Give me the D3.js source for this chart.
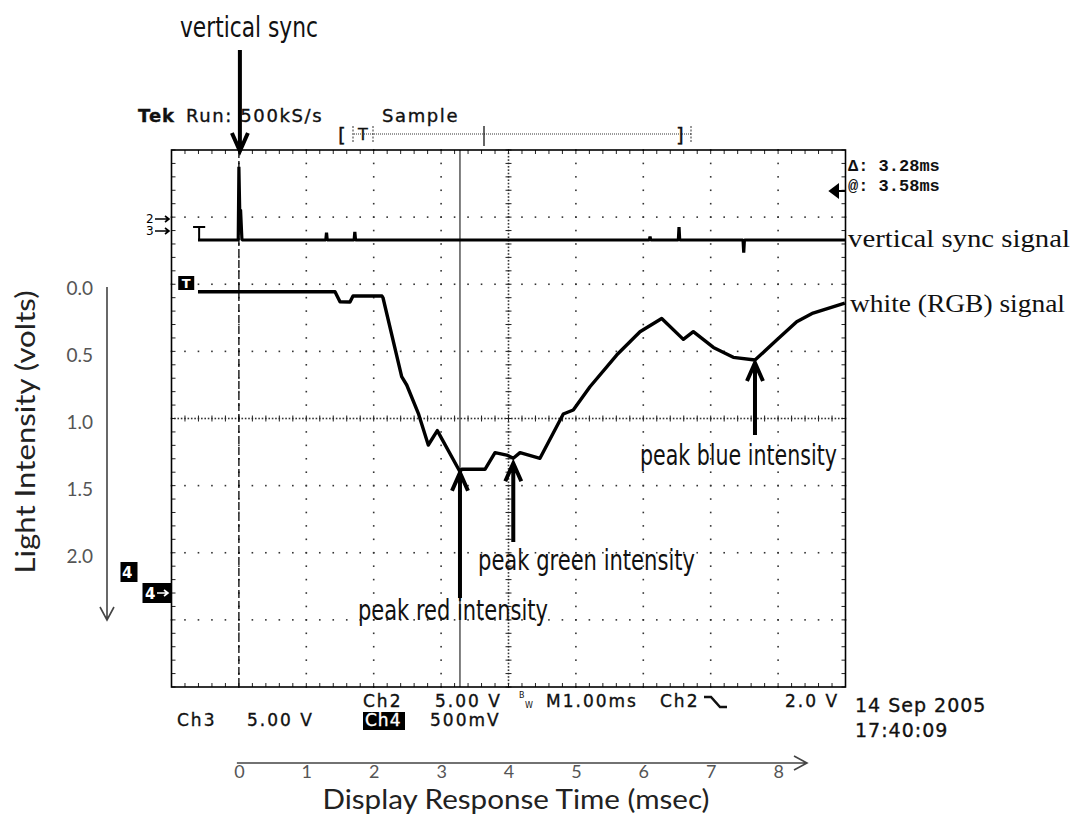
<!DOCTYPE html>
<html><head><meta charset="utf-8">
<script src="https://cdn.jsdelivr.net/npm/d3@7"></script>
<style>
body{margin:0;background:#fff;}
svg{display:block;}
.scope{font-family:"DejaVu Sans",sans-serif;font-size:17px;letter-spacing:2px;fill:#111;stroke:#111;stroke-width:0.35px;}
.cond{font-family:"DejaVu Sans Condensed","Liberation Sans Narrow",sans-serif;font-size:29px;fill:#111;}
.cal{font-family:Lato,"Open Sans",sans-serif;}
.serif{font-family:"Liberation Serif","DejaVu Serif",serif;font-size:26px;fill:#111;}
</style></head><body>
<svg id="c" width="1086" height="819"></svg>
<script>
// ---------------- data ----------------
// white (RGB) light signal, Ch4 : time (ms after vsync) / relative intensity (V)
const whiteTime  = [-0.607, 1.426, 1.50, 1.648, 1.693, 2.123, 2.138, 2.415, 2.49, 2.662, 2.81, 2.944, 3.28, 3.306, 3.651, 3.80, 3.973, 4.071, 4.171, 4.467, 4.813, 4.961, 5.209, 5.605, 5.951, 6.273, 6.594, 6.742, 7.04, 7.335, 7.657, 7.979, 8.276, 8.518, 8.99];
const whiteVolts = [0.035, 0.035, 0.11, 0.112, 0.067, 0.067, 0.08, 0.668, 0.73, 0.941, 1.177, 1.07, 1.376, 1.358, 1.358, 1.234, 1.252, 1.276, 1.234, 1.276, 0.946, 0.916, 0.743, 0.507, 0.333, 0.235, 0.39, 0.333, 0.45, 0.524, 0.544, 0.395, 0.258, 0.194, 0.12];
// vertical sync signal, Ch3 : time (ms) / volts
const syncTime  = [-0.607, -0.01, 0.0, 0.012, 0.025, 0.045, 1.29, 1.30, 1.31, 1.71, 1.72, 1.73, 6.09, 6.10, 6.11, 6.52, 6.53, 6.54, 7.48, 7.49, 7.50, 9.0];
const syncVolts = [0, 0, 5.45, 2.25, 2.25, 0, 0, 0.55, 0, 0, 0.6, 0, 0, 0.25, 0, 0, 0.97, 0, 0, -0.95, 0, 0];
const timeTicks = [0, 1, 2, 3, 4, 5, 6, 7, 8];
const voltTicks = [0, 0.5, 1.0, 1.5, 2.0];
const cursorTimes = [0, 3.28];
const peakLabels = ["peak red intensity", "peak green intensity", "peak blue intensity"];
const peakTimes = [3.28, 4.071, 7.657];
const seriesLabels = ["vertical sync signal", "white (RGB) signal"];
const readouts = ["\u0394: 3.28ms", "@: 3.58ms"];
const statusRow1 = ["Ch2", "5.00 V", "M1.00ms", "Ch2", "2.0 V"];
const statusRow2 = ["Ch3", "5.00 V", "Ch4", "500mV"];
const dateLines = ["14 Sep 2005", "17:40:09"];

// ---------------- scales ----------------
const P = {l: 171.5, r: 845.5, t: 150, b: 687};
const x = d3.scaleLinear().domain([-1, 9]).range([P.l, P.r]);          // 1 ms / div
const div = d3.scaleLinear().domain([4, -4]).range([P.t, P.b]);        // graticule divisions
const yW = d3.scaleLinear().domain([0, 2]).range([287, 287 + 4 * 67.125]); // 500 mV / div
const yS = d3.scaleLinear().domain([0, 5]).range([240, 240 - 67.125]);     // 5 V / div

const svg = d3.select("#c");

// ---------------- graticule ----------------
const grid = svg.append("g");
const dots = [];
const divMinor = d3.range(-4, 4.0001, 0.2);
const tMinor = d3.range(-1, 9.0001, 0.2);
d3.range(0, 9).filter(t => t !== 4).forEach(t => divMinor.forEach(d => dots.push([x(t), div(d)])));
[-3, -2, -1, 1, 2, 3].forEach(d => tMinor.forEach(t => dots.push([x(t), div(d)])));
// dense center lines
d3.range(-4, 4.0001, 0.05).forEach(d => dots.push([x(4), div(d)]));
d3.range(-1, 9.0001, 0.05).forEach(t => dots.push([x(t), div(0)]));
grid.selectAll("rect.dot").data(dots).join("rect").attr("class", "dot")
  .attr("x", d => d[0] - 0.8).attr("y", d => d[1] - 0.8).attr("width", 1.6).attr("height", 1.6)
  .attr("fill", "#333");
// center cross ticks
grid.selectAll("line.cv").data(divMinor).join("line").attr("class", "cv")
  .attr("x1", x(4) - 3).attr("x2", x(4) + 3).attr("y1", d => div(d)).attr("y2", d => div(d))
  .attr("stroke", "#222").attr("stroke-width", 1);
grid.selectAll("line.ch").data(tMinor).join("line").attr("class", "ch")
  .attr("y1", div(0) - 3).attr("y2", div(0) + 3).attr("x1", d => x(d)).attr("x2", d => x(d))
  .attr("stroke", "#222").attr("stroke-width", 1);
// border ticks
const bt = [];
tMinor.forEach(t => { bt.push([x(t), P.t, x(t), P.t + 4]); bt.push([x(t), P.b, x(t), P.b - 4]); });
divMinor.forEach(d => { bt.push([P.l, div(d), P.l + 4, div(d)]); bt.push([P.r, div(d), P.r - 4, div(d)]); });
grid.selectAll("line.bt").data(bt).join("line").attr("class", "bt")
  .attr("x1", d => d[0]).attr("y1", d => d[1]).attr("x2", d => d[2]).attr("y2", d => d[3])
  .attr("stroke", "#222").attr("stroke-width", 1);
grid.append("rect").attr("x", P.l).attr("y", P.t).attr("width", P.r - P.l).attr("height", P.b - P.t)
  .attr("fill", "none").attr("stroke", "#000").attr("stroke-width", 1.6);

// cursors
svg.selectAll("line.cursor").data(cursorTimes).join("line").attr("class", "cursor")
  .attr("x1", d => x(d)).attr("x2", d => x(d)).attr("y1", P.t).attr("y2", P.b)
  .attr("stroke", "#000").attr("stroke-width", (d, i) => i === 0 ? 1.3 : 1)
  .attr("stroke-dasharray", (d, i) => i === 0 ? "8,3" : null);

// ---------------- traces ----------------
const syncData = syncTime.map((t, i) => [t, syncVolts[i]]);
const whiteData = whiteTime.map((t, i) => [t, whiteVolts[i]]);
svg.append("path").datum(syncData)
  .attr("d", d3.line().x(d => x(d[0])).y(d => yS(d[1])))
  .attr("fill", "none").attr("stroke", "#000").attr("stroke-width", 3.2).attr("stroke-linejoin", "bevel");
svg.append("path").datum(whiteData)
  .attr("d", d3.line().x(d => x(d[0])).y(d => yW(d[1])))
  .attr("fill", "none").attr("stroke", "#000").attr("stroke-width", 3.4).attr("stroke-linejoin", "round");

// trigger markers "T"
svg.append("path").attr("d", `M${x(-0.68)},227 H${x(-0.5)} M${x(-0.59)},227 V240`)
  .attr("stroke", "#000").attr("stroke-width", 2).attr("fill", "none");
svg.append("rect").attr("x", x(-0.9)).attr("y", 276).attr("width", 16).attr("height", 14).attr("fill", "#000");
svg.append("text").attr("x", x(-0.9) + 8).attr("y", 288).attr("text-anchor", "middle")
  .attr("font-family", "DejaVu Sans").attr("font-weight", "bold").attr("font-size", 13).attr("fill", "#fff").text("T");

// channel markers on left
const mk = svg.append("g").attr("font-family", "DejaVu Sans").attr("font-size", 12).attr("fill", "#000");
mk.append("text").attr("x", 146).attr("y", 223).text("2");
mk.append("text").attr("x", 146).attr("y", 235).text("3");
[219, 231].forEach(yy => {
  mk.append("path").attr("d", `M155,${yy} H169 M165,${yy - 3} L169,${yy} L165,${yy + 3}`)
    .attr("stroke", "#000").attr("stroke-width", 1.6).attr("fill", "none");
});
svg.append("rect").attr("x", 120.5).attr("y", 562).attr("width", 17).attr("height", 20).attr("fill", "#000");
svg.append("text").attr("x", 122).attr("y", 578).attr("font-family", "DejaVu Sans").attr("font-weight", "bold")
  .attr("font-size", 15).attr("fill", "#fff").text("4");
svg.append("rect").attr("x", 142.5).attr("y", 583).attr("width", 28.5).attr("height", 20).attr("fill", "#000");
svg.append("text").attr("x", 145).attr("y", 599).attr("font-family", "DejaVu Sans").attr("font-weight", "bold")
  .attr("font-size", 15).attr("fill", "#fff").text("4");
svg.append("path").attr("d", "M157,593 H168 M164,590 L168,593 L164,596")
  .attr("stroke", "#fff").attr("stroke-width", 1.6).attr("fill", "none");

// ---------------- header ----------------
const hd = svg.append("g").attr("class", "scope").style("font-size", "18px");
hd.append("text").attr("x", 138).attr("y", 122).attr("font-weight", "bold").style("letter-spacing", "1px").text("Tek");
hd.append("text").attr("x", 186).attr("y", 122).style("letter-spacing", "1.6px").text("Run: 500kS/s");
hd.append("text").attr("x", 382).attr("y", 122).style("letter-spacing", "1.6px").text("Sample");
hd.append("text").attr("x", 338).attr("y", 142).style("font-size", "20px").style("letter-spacing", "0px").text("[");
hd.append("text").attr("x", 676).attr("y", 142).style("font-size", "20px").style("letter-spacing", "0px").text("]");
hd.append("text").attr("x", 358).attr("y", 140).style("font-size", "16px").style("letter-spacing", "0px").text("T");
svg.append("line").attr("x1", 354).attr("x2", 691).attr("y1", 134).attr("y2", 134)
  .attr("stroke", "#333").attr("stroke-width", 1).attr("stroke-dasharray", "1,1");
[353, 373, 691].forEach(xx => svg.append("line").attr("x1", xx).attr("x2", xx).attr("y1", 126).attr("y2", 142)
  .attr("stroke", "#333").attr("stroke-dasharray", "2,1.5"));
svg.append("line").attr("x1", 484).attr("x2", 484).attr("y1", 126).attr("y2", 146).attr("stroke", "#000").attr("stroke-width", 1.2);

// readouts
const ro = svg.append("g").attr("font-family", "Liberation Mono, DejaVu Sans Mono, monospace")
  .attr("font-size", 17).attr("font-weight", "bold").attr("fill", "#111");
readouts.forEach((t, i) => ro.append("text").attr("x", 848).attr("y", 171 + i * 20).text(t));
svg.append("path").attr("d", "M830,191 L838,185 L838,197 Z M836,191 H845").attr("fill", "#000").attr("stroke", "#000").attr("stroke-width", 2);

// series labels (right)
svg.append("text").attr("class", "serif").attr("x", 848).attr("y", 247)
  .attr("textLength", 222).attr("lengthAdjust", "spacingAndGlyphs").text(seriesLabels[0]);
svg.append("text").attr("class", "serif").attr("x", 850).attr("y", 312)
  .attr("textLength", 215).attr("lengthAdjust", "spacingAndGlyphs").text(seriesLabels[1]);

// ---------------- status rows ----------------
svg.append("rect").attr("x", 363).attr("y", 712).attr("width", 42).attr("height", 18).attr("fill", "#000");
const st = svg.append("g").attr("class", "scope");
const row1X = [363, 435, 546, 660, 785];
statusRow1.forEach((t, i) => st.append("text").attr("x", row1X[i]).attr("y", 707).text(t));
st.append("text").attr("x", 519).attr("y", 698).style("font-size", "8px").style("letter-spacing", "0px").style("stroke-width", "0px").text("B");
st.append("text").attr("x", 525).attr("y", 708).style("font-size", "8px").style("letter-spacing", "0px").style("stroke-width", "0px").text("W");
svg.append("path").attr("d", "M704,697 H711 L720,707 H727").attr("stroke", "#111").attr("stroke-width", 2.5).attr("fill", "none");
const row2X = [177, 247, 365, 430];
statusRow2.forEach((t, i) => st.append("text").attr("x", row2X[i]).attr("y", 726)
  .style("fill", i === 2 ? "#fff" : "#111").style("stroke", i === 2 ? "#fff" : "#111")
  .style("letter-spacing", i === 2 ? "1px" : "2px").text(t));
const dt = svg.append("g").attr("class", "scope").style("font-size", "19px").style("letter-spacing", "1px");
dateLines.forEach((t, i) => dt.append("text").attr("x", 855).attr("y", 712 + i * 25).text(t));

// ---------------- annotated axes ----------------
const xa = svg.append("g").attr("transform", "translate(0,773)")
  .call(d3.axisBottom(x).tickValues(timeTicks).tickSize(0).tickPadding(0).tickFormat(d3.format("d")));
xa.select(".domain").remove();
xa.selectAll("text").attr("class", "cal").attr("font-size", 18).attr("fill", "#555").attr("dy", "0.3em");
svg.append("path").attr("d", `M${x(-0.03)},763 H807 M794,756 L807,763 L794,770`)
  .attr("stroke", "#444").attr("stroke-width", 1.6).attr("fill", "none");
svg.append("text").attr("class", "cal").attr("x", 516).attr("y", 809).attr("text-anchor", "middle")
  .attr("font-size", 26).attr("fill", "#222").attr("textLength", 387).attr("lengthAdjust", "spacingAndGlyphs")
  .text("Display Response Time (msec)");

const ya = svg.append("g").attr("transform", "translate(93,1)")
  .call(d3.axisLeft(yW).tickValues(voltTicks).tickSize(0).tickPadding(0).tickFormat(d3.format(".1f")));
ya.select(".domain").remove();
ya.selectAll("text").attr("class", "cal").attr("font-size", 19).attr("fill", "#555");
svg.append("path").attr("d", `M107,${yW(0)} V620 M100,607 L107,620 L114,607`)
  .attr("stroke", "#444").attr("stroke-width", 1.6).attr("fill", "none");
svg.append("text").attr("class", "cal").attr("transform", "translate(35,432) rotate(-90)")
  .attr("text-anchor", "middle").attr("font-size", 27).attr("fill", "#222")
  .attr("textLength", 283).attr("lengthAdjust", "spacingAndGlyphs").text("Light Intensity (volts)");

// ---------------- annotations ----------------
function arrow(xx, tail, tip, dir) {
  // dir = -1 pointing up, +1 pointing down
  const h = 18 * -dir;
  svg.append("path").attr("d", `M${xx},${tail} V${tip} M${xx - 8},${tip + h} L${xx},${tip} L${xx + 8},${tip + h}`)
    .attr("stroke", "#000").attr("stroke-width", 4).attr("fill", "none").attr("stroke-linejoin", "miter");
}
arrow(x(cursorTimes[0]) + 1, 50, 151, 1);
svg.append("text").attr("class", "cond").attr("x", 180).attr("y", 37)
  .attr("textLength", 138).attr("lengthAdjust", "spacingAndGlyphs").text("vertical sync");

const peakLayout = [{tail: 598, off: 1, tx: 358, ty: 620, w: 190},
                    {tail: 542, off: 5, tx: 478, ty: 570, w: 217},
                    {tail: 435, off: 3, tx: 640, ty: 465, w: 197}];
peakTimes.forEach((t, i) => {
  const j = d3.minIndex(whiteTime, w => Math.abs(w - t));
  const L = peakLayout[i];
  arrow(x(t), L.tail, yW(whiteVolts[j]) + L.off, -1);
  svg.append("text").attr("class", "cond").attr("x", L.tx).attr("y", L.ty)
    .attr("textLength", L.w).attr("lengthAdjust", "spacingAndGlyphs").text(peakLabels[i]);
});
</script>
</body></html>
